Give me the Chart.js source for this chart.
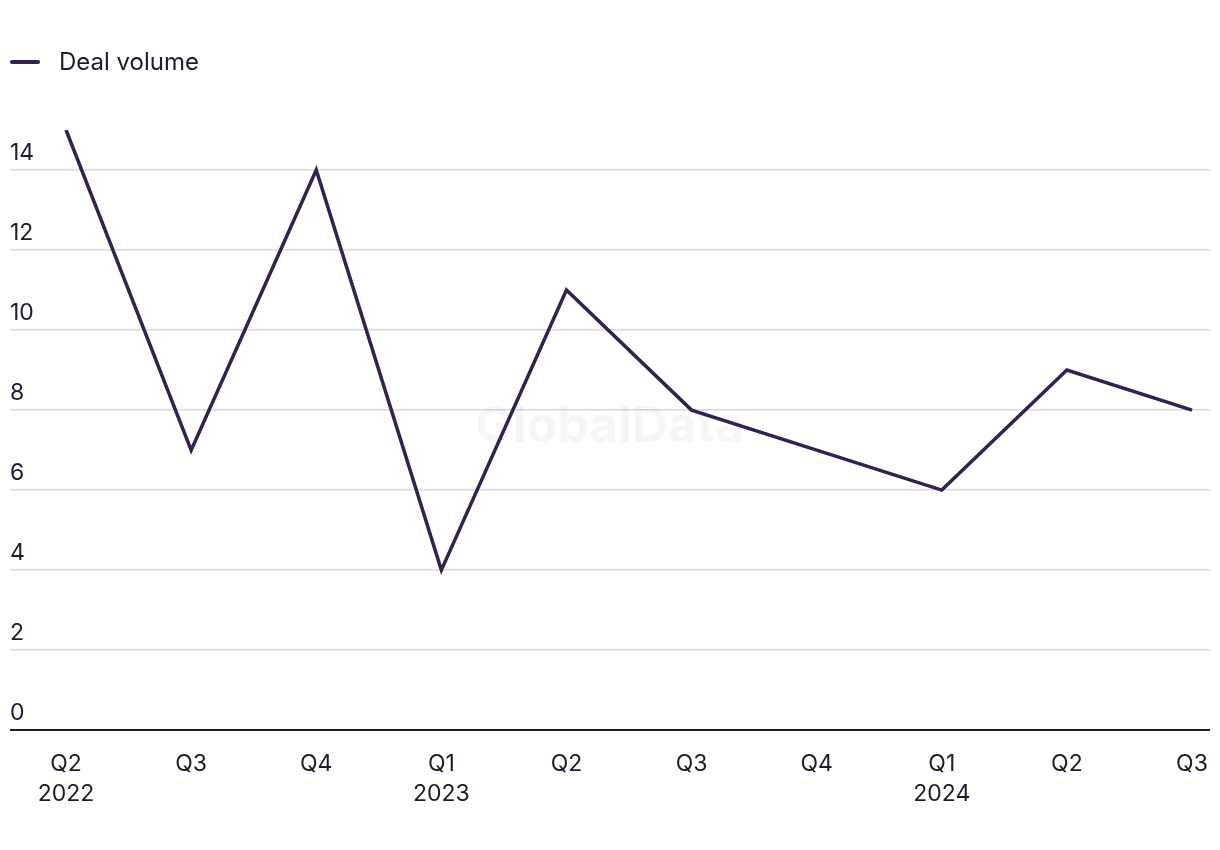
<!DOCTYPE html>
<html>
<head>
<meta charset="utf-8">
<script src="https://cdn.jsdelivr.net/npm/chart.js@4.4.1/dist/chart.umd.min.js"></script>
<style>
  body { margin: 0; background: #fff; font-family: Inter, "Noto Sans", sans-serif; }
  #wrap { position: relative; width: 1220px; height: 850px; }
  #legend { position: absolute; left: 10px; top: 48px; display: flex; align-items: center; font-size: 24px; line-height: 28px; color: #1d1b2e; }
  #legend .swatch { width: 30px; height: 4px; border-radius: 2px; background: #33214f; margin-right: 19px; }
</style>
</head>
<body>
<div id="wrap">
  <div id="legend"><span class="swatch"></span><span>Deal volume</span></div>
  <canvas id="chart" width="1220" height="850"></canvas>
</div>
<script>
const quarters = ['Q2', 'Q3', 'Q4', 'Q1', 'Q2', 'Q3', 'Q4', 'Q1', 'Q2', 'Q3'];
const years = ['2022', '', '', '2023', '', '', '', '2024', '', ''];
const dealVolume = [15, 7, 14, 4, 11, 8, 7, 6, 9, 8];
const yTicks = [0, 2, 4, 6, 8, 10, 12, 14];

const lineColor = '#33214f';
const textColor = '#1d1b2e';

const watermark = {
    id: 'watermark',
    beforeDatasetsDraw(chart) {
        const { ctx, chartArea } = chart;
        ctx.save();
        ctx.font = 'bold 50px Inter, sans-serif';
        ctx.fillStyle = 'rgba(0,0,0,0.035)';
        ctx.textAlign = 'center';
        ctx.textBaseline = 'middle';
        ctx.fillText('GlobalData', (chartArea.left + chartArea.right) / 2, 427);
        ctx.restore();
    }
};

const ctx = document.getElementById('chart').getContext('2d');
new Chart(ctx, {
    type: 'line',
    data: {
        datasets: [{
            label: 'Deal volume',
            data: dealVolume.map((v, i) => ({ x: i, y: v })),
            borderColor: lineColor,
            borderWidth: 3.5,
            pointRadius: 0,
            tension: 0,
            fill: false
        }]
    },
    plugins: [watermark],
    options: {
        responsive: false,
        animation: false,
        layout: { padding: { left: 10, right: 10, top: 130, bottom: 22 } },
        plugins: {
            legend: { display: false },
            tooltip: { enabled: false }
        },
        scales: {
            x: {
                type: 'linear',
                min: -0.448,
                max: 9.144,
                afterBuildTicks: (axis) => { axis.ticks = quarters.map((q, i) => ({ value: i })); },
                afterFit: (axis) => { axis.paddingLeft = 0; axis.paddingRight = 0; },
                ticks: {
                    autoSkip: false,
                    maxRotation: 0,
                    padding: 19,
                    color: textColor,
                    font: { family: 'Inter, sans-serif', size: 23, lineHeight: 1.3 },
                    callback: (v) => years[v] ? [quarters[v], years[v]] : quarters[v]
                },
                grid: { display: false, drawTicks: false },
                border: { display: false }
            },
            y: {
                min: 0,
                max: 15,
                afterBuildTicks: (axis) => { axis.ticks = yTicks.map(v => ({ value: v })); },
                ticks: {
                    mirror: true,
                    padding: 0,
                    labelOffset: -17,
                    color: textColor,
                    font: { family: 'Inter, sans-serif', size: 23 }
                },
                grid: {
                    drawTicks: false,
                    color: (c) => c.tick && c.tick.value === 0 ? '#1d1b2e' : '#d9d9d9',
                    lineWidth: (c) => c.tick && c.tick.value === 0 ? 2 : 1.5
                },
                border: { display: false }
            }
        }
    }
});
</script>
</body>
</html>
